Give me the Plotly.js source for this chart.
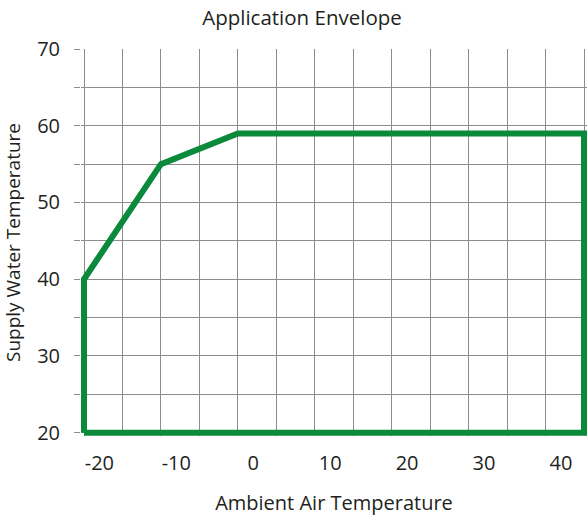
<!DOCTYPE html>
<html>
<head>
<meta charset="utf-8">
<script src="https://cdn.plot.ly/plotly-3.0.1.min.js"></script>
<style>html,body{margin:0;padding:0;background:#fff;}#chart{width:588px;height:518px;}</style>
</head>
<body>
<div id="chart"></div>
<script>
// Envelope boundary (ambient air temp, supply water temp)
const ambientTemp = [-22, -22, -12, -2, 43, 43, -22];
const supplyTemp  = [20, 40, 55, 59, 59, 20, 20];
// X tick labels
const xTickVals = [-20, -10, 0, 10, 20, 30, 40];
const xTickText = ['-20', '-10', '0', '10', '20', '30', '40'];
// Y tick labels
const yTickVals = [20, 30, 40, 50, 60, 70];

const grid = '#8c8c8c';
const ink = '#231f20';
const font = '"Open Sans", "Liberation Sans", sans-serif';

const trace = {
  x: ambientTemp, y: supplyTemp, type: 'scatter', mode: 'lines',
  line: {color: '#0b8a3b', width: 6}, cliponaxis: false, hoverinfo: 'skip'
};

const layout = {
  width: 588, height: 518,
  margin: {l: 81, r: 1, t: 49, b: 82},
  paper_bgcolor: '#fff', plot_bgcolor: '#fff',
  showlegend: false,
  font: {family: font, color: ink, size: 20},
  title: {text: 'Application Envelope', font: {family: font, size: 20.5, color: ink},
          x: 0.5136, xref: 'container', xanchor: 'center', y: 0.965, yref: 'container', yanchor: 'middle'},
  xaxis: {
    range: [-22.39, 43.39], tickmode: 'array', tickvals: xTickVals, ticktext: xTickText,
    showgrid: false, zeroline: false, showline: false, ticks: '', ticklabelstandoff: 13,
    tickfont: {size: 20},
    minor: {tick0: -22, dtick: 5, showgrid: true, gridcolor: grid, gridwidth: 1, ticks: ''},
    title: {text: 'Ambient Air Temperature', font: {size: 20}, standoff: 20}
  },
  yaxis: {
    range: [19.57, 70], tickmode: 'array', tickvals: yTickVals,
    showgrid: true, gridcolor: grid, gridwidth: 1,
    zeroline: false, showline: false, ticks: 'outside', ticklen: 6, tickcolor: grid, tickwidth: 1,
    ticklabelstandoff: 10, tickfont: {size: 20},
    minor: {tick0: 20, dtick: 5, showgrid: true, gridcolor: grid, gridwidth: 1, ticks: 'outside', ticklen: 6, tickcolor: grid, tickwidth: 1},
    title: {text: 'Supply Water Temperature', font: {size: 19}, standoff: 13}
  }
};

Plotly.newPlot('chart', [trace], layout, {displayModeBar: false, staticPlot: true});
</script>
</body>
</html>
